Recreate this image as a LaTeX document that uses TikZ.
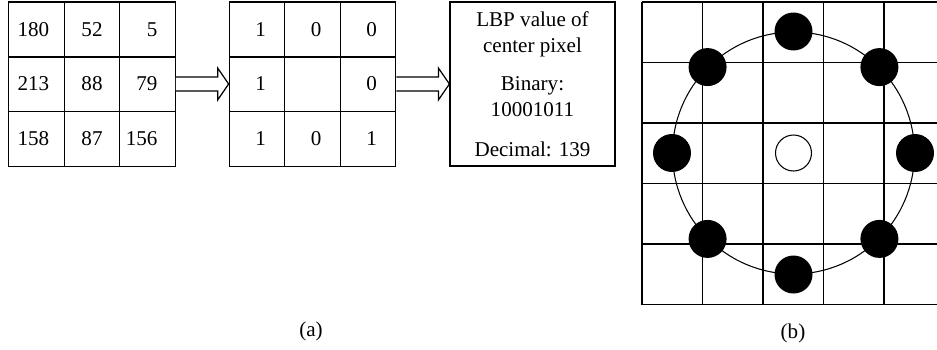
\documentclass[tikz,border=0pt]{standalone}
\usepackage{fontspec}
\setmainfont{Liberation Serif}
\usetikzlibrary{calc}

\begin{document}
\begin{tikzpicture}[x=0.02cm,y=-0.02cm]
			\tikzstyle{cell} = [draw, line width=0.7pt, minimum width=1.11cm, minimum height=1.1cm, inner sep=0pt, font=\fontsize{12}{14}\selectfont]
			\tikzstyle{leftcell} = [cell, text width=0.76cm, align=left]
			\tikzstyle{rightcell} = [cell, text width=0.4cm, align=right]
			\tikzstyle{bitcell} = [cell, text width=0.36cm, align=right]
			\tikzstyle{result} = [draw, line width=0.7pt, minimum width=3.3cm, minimum height=3.28cm, align=center, font=\fontsize{12}{14.7}\selectfont]
			\tikzstyle{gridline} = [line width=0.7pt]
			\tikzstyle{ring} = [draw, circle, line width=0.6pt, minimum size=4.84cm, inner sep=0pt]
			\tikzstyle{neighbour} = [circle, fill=black, minimum size=0.76cm, inner sep=0pt]
			\tikzstyle{pixel} = [draw, circle, fill=white, line width=0.6pt, minimum size=0.72cm, inner sep=0pt]
			\tikzstyle{caption} = [font=\fontsize{12}{14}\selectfont]
			\tikzset{fatarrow/.style = {draw, line width=0.7pt, fill=white}}
			
			\useasboundingbox (0,0) rectangle (937,349);
			
			% (a) input pixels
			\node[leftcell](in11) at (36.5,29.5) {180};
			\node[cell](in12) at (92,29.5) {52};
			\node[rightcell](in13) at (147.5,29.5) {\llap{5}};
			\node[leftcell](in21) at (36.5,84) {213};
			\node[cell](in22) at (92,84) {88};
			\node[rightcell](in23) at (147.5,84) {\llap{79}};
			\node[leftcell](in31) at (36.5,139) {158};
			\node[cell](in32) at (92,139) {87};
			\node[rightcell](in33) at (147.5,139) {\llap{156}};
			
			% thresholded bits
			\node[bitcell](bin11) at (257,29.5) {1};
			\node[bitcell](bin12) at (312.5,29.5) {0};
			\node[bitcell](bin13) at (368,29.5) {0};
			\node[bitcell](bin21) at (257,84) {1};
			\node[bitcell](bin22) at (312.5,84) {};
			\node[bitcell](bin23) at (368,84) {0};
			\node[bitcell](bin31) at (257,139) {1};
			\node[bitcell](bin32) at (312.5,139) {0};
			\node[bitcell](bin33) at (368,139) {1};
			
			\node[result](lbp) at (532.5,84) {LBP value of\\center pixel\\[7pt]Binary:\\10001011\\[8pt]Decimal: 139};
			
			\draw[fatarrow] ($(in23.east)+(0,-7)$) -- ($(bin21.west)+(-11,-7)$) -- ($(bin21.west)+(-11,-16)$) -- (bin21.west)
				-- ($(bin21.west)+(-11,16)$) -- ($(bin21.west)+(-11,7)$) -- ($(in23.east)+(0,7)$);
			\draw[fatarrow] ($(bin23.east)+(0,-7)$) -- ($(lbp.west)+(-11,-7)$) -- ($(lbp.west)+(-11,-16)$) -- (lbp.west)
				-- ($(lbp.west)+(-11,16)$) -- ($(lbp.west)+(-11,7)$) -- ($(bin23.east)+(0,7)$);
			
			% (b) circular neighbourhood
			\foreach \gx in {0,...,4} \draw[gridline] (642+60.5*\gx,2) -- (642+60.5*\gx,304.5);
			\foreach \gy in {0,...,5} \draw[gridline] (642,2+60.5*\gy) -- (937,2+60.5*\gy);
			
			\node[ring](ring) at (793.5,153) {};
			\node[pixel](center) at (ring.center) {};
			\node[neighbour](n0) at (ring.0) {};
			\node[neighbour](n1) at (ring.45) {};
			\node[neighbour](n2) at (ring.90) {};
			\node[neighbour](n3) at (ring.135) {};
			\node[neighbour](n4) at (ring.180) {};
			\node[neighbour](n5) at (ring.225) {};
			\node[neighbour](n6) at (ring.270) {};
			\node[neighbour](n7) at (ring.315) {};
			
			\node[caption](capa) at (311,331) {(a)};
			\node[caption](capb) at (793,333) {(b)};
			
			\end{tikzpicture}
\end{document}
